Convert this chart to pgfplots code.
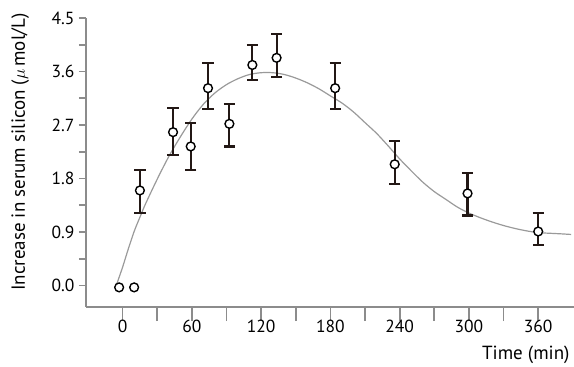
\documentclass[border=0pt]{standalone}
\usepackage{pgfplots}
\pgfplotsset{compat=1.18}
\usepackage{fontspec}
\setmainfont{PT Sans}
\definecolor{axgray}{HTML}{8C8C8C}
\definecolor{errc}{HTML}{231815}
\definecolor{curvegray}{HTML}{9A9A9A}
\begin{document}
\begin{tikzpicture}
\begin{axis}[
  scale only axis, width=488pt, height=289pt,
  xmin=-31.7, xmax=391, ymin=-0.36, ymax=4.5,
  axis x line*=bottom, axis y line*=left,
  axis line style={axgray, line width=2pt},
  tick align=outside,
  xtick={0,60,...,360}, xticklabels={0,60,120,180,240,300,360},
  minor xtick={30,90,...,330},
  ytick={0,0.9,1.8,2.7,3.6,4.5}, yticklabels={0.0,0.9,1.8,2.7,3.6,4.5},
  minor ytick={0.45,1.35,2.25,3.15,4.05},
  major tick length=7pt, minor tick length=7pt,
  every tick/.style={axgray, line width=1.8pt},
  xtick style={/pgfplots/major tick length=14pt, /pgfplots/minor tick length=14pt},
  ytick style={/pgfplots/major tick length=7pt, /pgfplots/minor tick length=7pt},
  tick label style={font=\fontsize{17.5}{20}\selectfont, text=black},
  xticklabel style={yshift=-3pt},
  yticklabel style={xshift=-1pt},
  xlabel={Time (min)}, ylabel={Increase in serum silicon ($\mu$\,mol/L)},
  every axis x label/.style={at={(axis description cs:0.998,-0.166)}, anchor=east, font=\fontsize{19}{22}\selectfont},
  every axis y label/.style={at={(axis description cs:-0.135,0.536)}, rotate=90, anchor=center, font=\fontsize{19}{22}\selectfont},
  clip=false,
]
\addplot[curvegray, line width=1.2pt, smooth] coordinates {
(-5,0.03) (0,0.31) (5,0.62) (10,0.91) (15,1.15) (20,1.38) (30,1.79) (40,2.17)
(50,2.50) (60,2.80) (70,3.05) (80,3.24) (90,3.38) (100,3.48) (110,3.55) (120,3.58)
(130,3.58) (140,3.55) (150,3.49) (160,3.41) (170,3.31) (180,3.19) (190,3.07)
(200,2.92) (210,2.74) (220,2.56) (230,2.35) (240,2.13) (250,1.93) (260,1.74)
(270,1.58) (280,1.45) (290,1.32) (300,1.22) (310,1.14) (320,1.07) (330,1.01)
(340,0.96) (350,0.92) (360,0.89) (370,0.88) (380,0.87) (388.5,0.86)
};
\addplot[errc, only marks, mark=none,
  error bars/.cd, y dir=both, y explicit,
  error bar style={errc, line width=2.2pt},
  error mark options={errc, rotate=90, mark size=5.6pt, line width=2.2pt}]
coordinates {
(15,1.60) += (0,0.34) -= (0,0.38)
(43.7,2.58) += (0,0.40) -= (0,0.38)
(59,2.34) += (0,0.40) -= (0,0.40)
(74,3.32) += (0,0.42) -= (0,0.35)
(92.5,2.72) += (0,0.34) -= (0,0.38)
(112.4,3.71) += (0,0.34) -= (0,0.25)
(133.4,3.83) += (0,0.40) -= (0,0.32)
(184.1,3.32) += (0,0.42) -= (0,0.35)
(235.7,2.04) += (0,0.39) -= (0,0.33)
(298.8,1.55) += (0,0.34) -= (0,0.37)
(360,0.91) += (0,0.31) -= (0,0.23)
};
\addplot[only marks, mark=*, mark size=4.4pt,
  mark options={fill=white, draw=black, line width=1.4pt}]
coordinates {
(-3,-0.03) (10,-0.03) (15,1.60) (43.7,2.58) (59,2.34) (74,3.32) (92.5,2.72)
(112.4,3.71) (133.4,3.83) (184.1,3.32) (235.7,2.04) (298.8,1.55) (360,0.91)
};
\end{axis}
\pgfresetboundingbox
\useasboundingbox (-86pt,-60pt) rectangle (488pt,307pt);
\end{tikzpicture}
\end{document}
